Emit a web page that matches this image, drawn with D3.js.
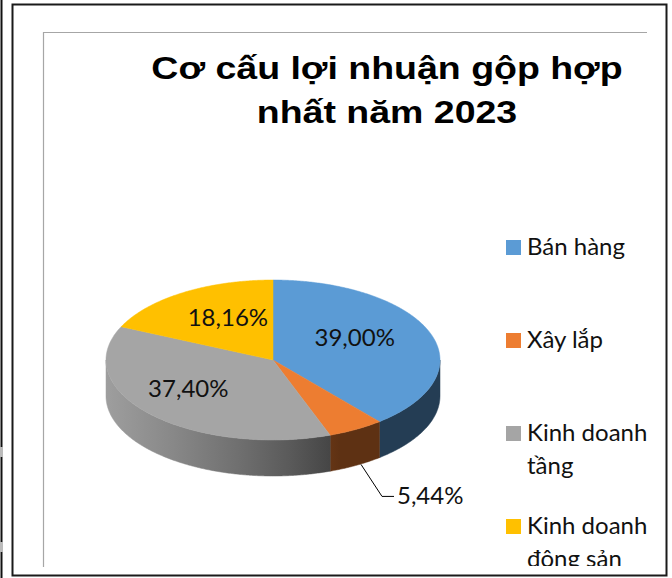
<!DOCTYPE html>
<html><head><meta charset="utf-8">
<script src="https://cdn.jsdelivr.net/npm/d3@7"></script>
<style>body{margin:0;background:#fff}svg{display:block}</style>
</head><body>
<svg id="c" width="672" height="578"></svg>
<script>
// ---- data ----
const categories = ["Bán hàng", "Xây lắp", "Kinh doanh tầng", "Kinh doanh đông sản"];
const legendLines = [["Bán hàng"], ["Xây lắp"], ["Kinh doanh", "tầng"], ["Kinh doanh", "đông sản"]];
const values = [39.00, 5.44, 37.40, 18.16];
const valueLabels = ["39,00%", "5,44%", "37,40%", "18,16%"];
const colors = ["#5B9BD5", "#ED7D31", "#A5A5A5", "#FFC000"];
const titleLines = ["Cơ cấu lợi nhuận gộp hợp", "nhất năm 2023"];

// ---- layout ----
const svg = d3.select("#c");
const W = 672, H = 578;
const cx = 273, cy = 360, rx = 167, ry = 80, depth = 36;
const labelR = [0.52, null, 0.69, 0.5];

// frames
svg.append("rect").attr("x", 0).attr("y", 0).attr("width", W).attr("height", H).attr("fill", "#fff");
svg.append("line").attr("x1", 1.5).attr("x2", 1.5).attr("y1", 0).attr("y2", H).attr("stroke", "#111").attr("stroke-width", 2);
[447, 542].forEach(y => svg.append("rect").attr("x", 0).attr("y", y).attr("width", 3).attr("height", 10).attr("fill", "#bbb"));
svg.append("rect").attr("x", 12.5).attr("y", 4.5).attr("width", 654).attr("height", 571)
  .attr("fill", "none").attr("stroke", "#1a1a1a").attr("stroke-width", 2);
svg.append("path").attr("d", "M43.5,567 V32.5 H647").attr("fill", "none").attr("stroke", "#a6a6a6").attr("stroke-width", 1.2);

// title
const title = svg.append("g").attr("font-family", "'Liberation Sans', Arial, sans-serif")
  .attr("font-weight", "bold").attr("font-size", 31.5).attr("fill", "#000");
titleLines.forEach((t, i) => {
  title.append("text").attr("transform", `translate(387,${79 + i * 44}) scale(1.19,1)`)
    .attr("text-anchor", "middle").text(t);
});

// pie
const pie = d3.pie().sort(null).value(d => d);
const arcs = pie(values);
const P = (a, r = 1, yo = 0) => [cx + rx * r * Math.sin(a), cy - ry * r * Math.cos(a) + yo];
const line = d3.line();
const sample = (a0, a1, r, yo) => {
  const n = Math.max(2, Math.ceil((a1 - a0) / 0.01));
  return d3.range(n + 1).map(i => P(a0 + (a1 - a0) * i / n, r, yo));
};

const defs = svg.append("defs");
// side gradients: lighter on the left, darker to the right
colors.forEach((c, i) => {
  const g = defs.append("linearGradient").attr("id", "side" + i)
    .attr("gradientUnits", "userSpaceOnUse")
    .attr("x1", cx - rx).attr("x2", cx + rx).attr("y1", 0).attr("y2", 0);
  const stops = [[0, 0.12], [0.2, 0.55], [0.4, 1.1], [0.55, 1.7], [0.7, 2.6], [1, 2.6]];
  stops.forEach(([o, k]) => g.append("stop").attr("offset", o).attr("stop-color", d3.color(c).darker(k)));
});

const gSides = svg.append("g");
arcs.forEach((d, i) => {
  const s = Math.max(d.startAngle, Math.PI / 2), e = Math.min(d.endAngle, 3 * Math.PI / 2);
  if (s >= e) return;
  const pts = sample(s, e, 1, 0).concat(sample(s, e, 1, depth).reverse());
  gSides.append("path").attr("d", line(pts) + "Z").attr("fill", `url(#side${i})`)
    .attr("stroke", `url(#side${i})`).attr("stroke-width", 0.5);
});

const gTops = svg.append("g");
arcs.forEach((d, i) => {
  const pts = [[cx, cy]].concat(sample(d.startAngle, d.endAngle, 1, 0));
  gTops.append("path").attr("d", line(pts) + "Z").attr("fill", colors[i])
    .attr("stroke", colors[i]).attr("stroke-width", 0.5);
});

// labels
const gLab = svg.append("g").attr("font-family", "Lato, 'Open Sans', sans-serif")
  .attr("font-size", 24).attr("fill", "#111");
arcs.forEach((d, i) => {
  const mid = (d.startAngle + d.endAngle) / 2;
  if (labelR[i] != null) {
    const [x, y] = P(mid, labelR[i], -9);
    gLab.append("text").attr("x", x).attr("y", y).attr("dy", "0.36em").attr("text-anchor", "middle").text(valueLabels[i]);
  } else {
    // outside label with leader line
    const a = P(mid, 1, depth);
    const anchor = [a[0] + 5, a[1] - 1];
    const elbow = [anchor[0] + 21, anchor[1] + 32];
    const end = [elbow[0] + 12, elbow[1]];
    svg.append("path").attr("d", line([anchor, elbow, end])).attr("fill", "none").attr("stroke", "#000").attr("stroke-width", 1);
    gLab.append("text").attr("x", end[0] + 3).attr("y", elbow[1]).attr("dy", "0.3em").attr("text-anchor", "start").text(valueLabels[i]);
  }
});

// legend
defs.append("clipPath").attr("id", "clipL").append("rect").attr("x", 0).attr("y", 0).attr("width", 666).attr("height", 566);
const gLeg = svg.append("g").attr("clip-path", "url(#clipL)")
  .attr("font-family", "Lato, 'Open Sans', sans-serif").attr("font-size", 24).attr("fill", "#111");
const legY = d3.scalePoint().domain(categories).range([255, 534]);
categories.forEach((c, i) => {
  const y = legY(c);
  gLeg.append("rect").attr("x", 506).attr("y", y - 15).attr("width", 15).attr("height", 15).attr("fill", colors[i]);
  legendLines[i].forEach((t, j) => {
    gLeg.append("text").attr("x", 527).attr("y", y + j * 33).text(t);
  });
});
</script>
</body></html>
